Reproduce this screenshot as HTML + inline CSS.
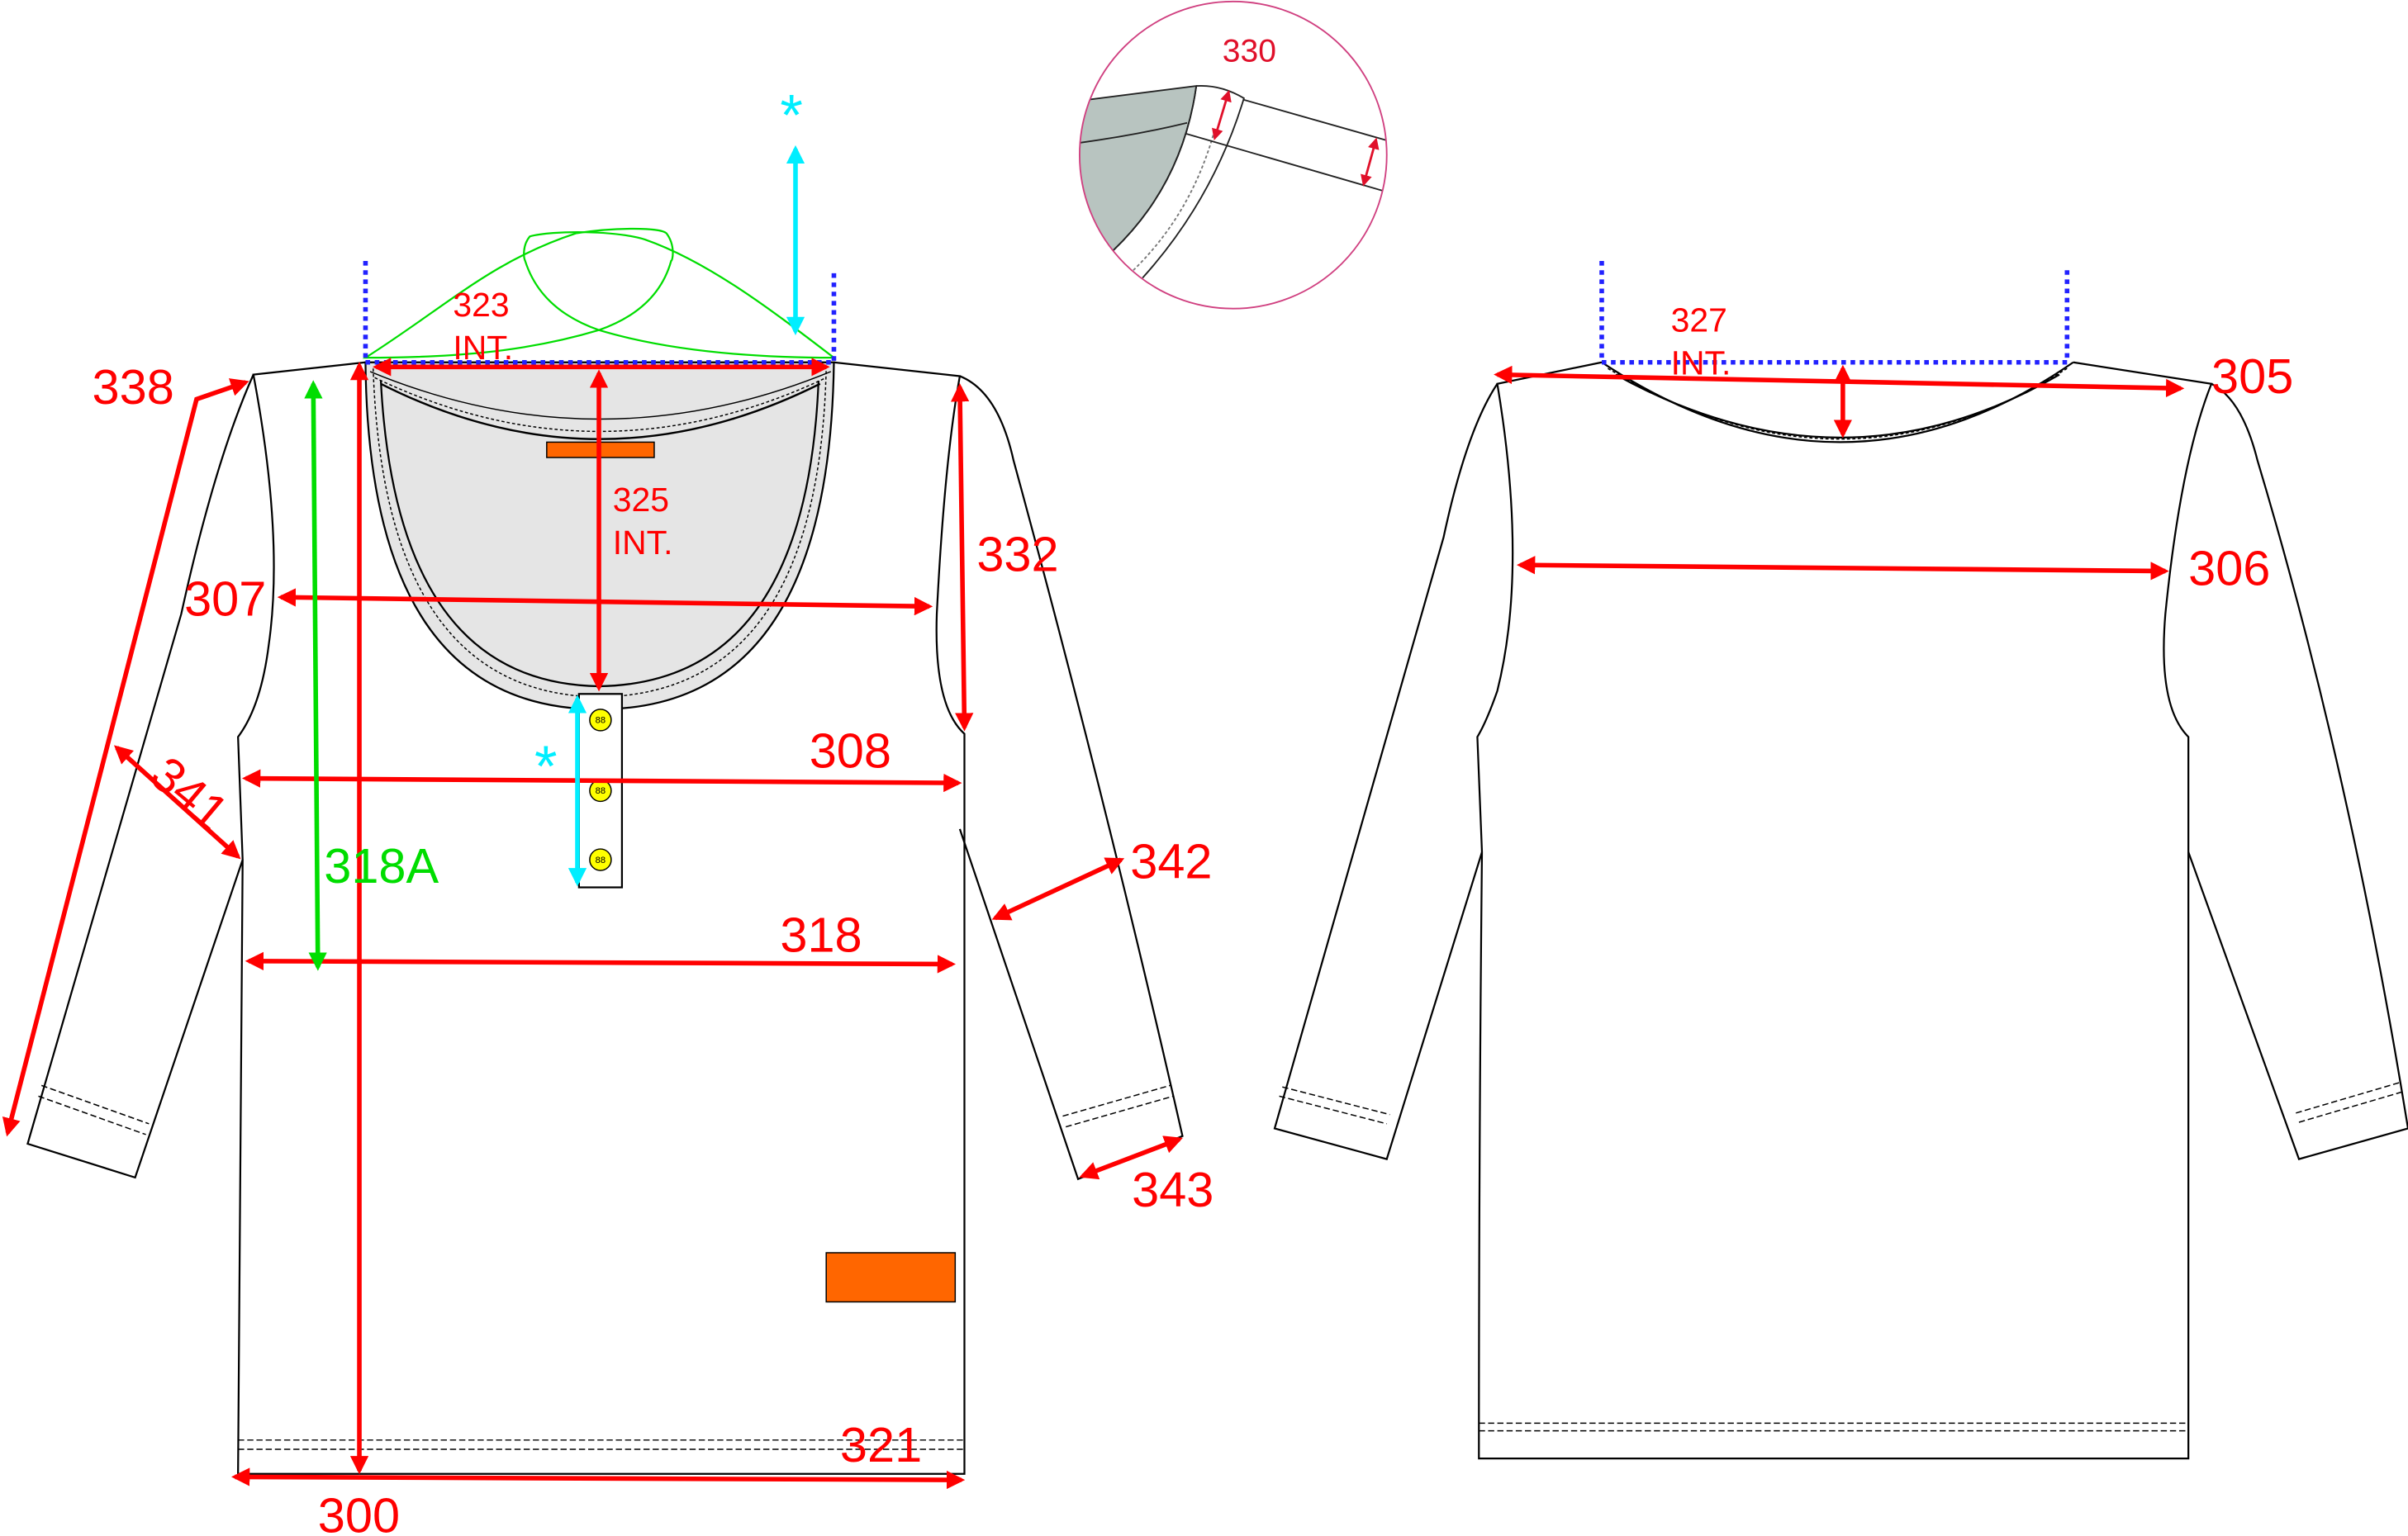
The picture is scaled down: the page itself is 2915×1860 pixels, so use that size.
<!DOCTYPE html>
<html><head><meta charset="utf-8"><style>
html,body{margin:0;padding:0;background:#fff;}
svg{display:block;}
text{font-family:"Liberation Sans",sans-serif;}
</style></head><body>
<svg width="2915" height="1860" viewBox="0 0 1568 1000.5" preserveAspectRatio="none" xmlns="http://www.w3.org/2000/svg">
<defs>
<marker id="ar" viewBox="0 0 10 10" refX="8" refY="5" markerWidth="4" markerHeight="4" orient="auto-start-reverse"><path d="M0,0 L10,5 L0,10 z" fill="#f00"/></marker>
<marker id="ag" viewBox="0 0 10 10" refX="8" refY="5" markerWidth="4" markerHeight="4" orient="auto-start-reverse"><path d="M0,0 L10,5 L0,10 z" fill="#0d0"/></marker>
<marker id="ac" viewBox="0 0 10 10" refX="8" refY="5" markerWidth="4" markerHeight="4" orient="auto-start-reverse"><path d="M0,0 L10,5 L0,10 z" fill="#0ef"/></marker>
<marker id="as" viewBox="0 0 10 10" refX="8" refY="5" markerWidth="5" markerHeight="5" orient="auto-start-reverse"><path d="M0,0 L10,5 L0,10 z" fill="#e0102a"/></marker>
<clipPath id="cc"><circle cx="803" cy="101" r="100"/></clipPath>
</defs>
<g fill="none" stroke="#000" stroke-width="1.2">
<!-- FRONT -->
<path d="M238,236 L165,244 Q185,350 175,420 Q170,460 155,480 L158,560 Q157,760 155,960 L628,960 L628,478 Q608,460 610,400 Q615,300 625,245 L543,236"/>
<path d="M165,244 Q140,300 118,400 L18,745 L88,767 L158,560"/>
<path d="M625,245 Q650,255 660,300 Q720,520 770,740 L702,768 L625,540"/>
<path d="M238,236 Q240,462 390,462 Q540,462 543,236 z" fill="#e5e5e5"/>
<path d="M243,240 Q250,452 390,454 Q533,452 538,240" stroke-dasharray="2,1.5" stroke-width="0.8"/>
<path d="M248,248 Q258,445 390,447 Q525,445 533,248"/>
<path d="M241,242 Q390,304 541,242" stroke-width="0.8"/>
<path d="M244,246 Q390,316 538,246" stroke-dasharray="2,1.5" stroke-width="0.8"/>
<path d="M248,250 Q390,322 534,250" stroke-width="1.3"/>
<rect x="377" y="452" width="28" height="126" fill="#fff"/>
<path d="M155,938 L628,938 M155,944 L628,944" stroke-dasharray="4,2" stroke-width="0.8"/>
<path d="M27,707 L97,732 M25,714 L95,739" stroke-dasharray="4,2" stroke-width="0.8"/>
<path d="M692,727 L762,707 M694,734 L764,714" stroke-dasharray="4,2" stroke-width="0.8"/>
<!-- BACK -->
<path d="M1043,236 L975,250 Q995,370 975,450 Q968,470 962,480 L965,555 Q963,750 963,950 L1425,950 L1425,480 Q1405,460 1410,400 Q1420,300 1440,250 L1350,236"/>
<path d="M1043,236 Q1200,340 1350,236"/>
<path d="M1047,240 Q1200,332 1346,240" stroke-dasharray="2,1.5" stroke-width="0.8"/>
<path d="M1052,244 Q1200,326 1341,244"/>
<path d="M975,250 Q955,280 940,350 L830,735 L903,755 L965,555"/>
<path d="M1440,250 Q1460,260 1470,300 Q1530,500 1568,735 L1497,755 L1425,555"/>
<path d="M963,927 L1425,927 M963,932 L1425,932" stroke-dasharray="4,2" stroke-width="0.8"/>
<path d="M835,708 L905,726 M833,714 L903,732" stroke-dasharray="4,2" stroke-width="0.8"/>
<path d="M1495,725 L1563,705 M1497,731 L1565,711" stroke-dasharray="4,2" stroke-width="0.8"/>
</g>
<!-- buttons -->
<g stroke="#000" stroke-width="0.8" fill="#ff0">
<circle cx="391" cy="469" r="7"/><circle cx="391" cy="515" r="7"/><circle cx="391" cy="560" r="7"/>
</g>
<g font-size="6" fill="#000" text-anchor="middle"><text x="391" y="471">88</text><text x="391" y="517">88</text><text x="391" y="562">88</text></g>
<rect x="356" y="288" width="70" height="10" fill="#f60" stroke="#000" stroke-width="0.8"/>
<rect x="538" y="816" width="84" height="32" fill="#f60" stroke="#000" stroke-width="0.8"/>
<!-- green neck shape -->
<g fill="none" stroke="#0d0" stroke-width="1.2">
<path d="M238,233 C290,200 320,170 375,152 C400,148 430,148 434,152 C440,160 438,170 437,170 C430,195 410,208 390,215 C340,230 290,233 238,233 Z"/>
<path d="M543,233 C500,200 460,170 420,156 C400,150 360,150 345,154 C340,160 341,168 342,170 C350,195 370,208 390,215 C440,230 500,233 543,233"/>
</g>
<!-- blue dotted -->
<g stroke="#22f" stroke-width="3" stroke-dasharray="3,3" fill="none">
<path d="M238,170 L238,236 L543,236 L543,176"/>
<path d="M1043,170 L1043,236 L1346,236 L1346,176"/>
</g>
<!-- red arrows -->
<g stroke="#f00" stroke-width="3" fill="none" marker-start="url(#ar)" marker-end="url(#ar)">
<line x1="245" y1="239" x2="538" y2="239"/>
<line x1="390" y1="243" x2="390" y2="448"/>
<line x1="234" y1="238" x2="234" y2="958"/>
<line x1="183" y1="389" x2="605" y2="395"/>
<line x1="160" y1="507" x2="624" y2="510"/>
<line x1="162" y1="626" x2="620" y2="628"/>
<line x1="625" y1="252" x2="628" y2="474"/>
<line x1="153" y1="962" x2="626" y2="964"/>
<line x1="76" y1="487" x2="155" y2="558"/>
<line x1="648" y1="598" x2="730" y2="560"/>
<line x1="705" y1="766" x2="768" y2="742"/>
<line x1="975" y1="244" x2="1420" y2="253"/>
<line x1="1200" y1="240" x2="1200" y2="283"/>
<line x1="990" y1="368" x2="1410" y2="372"/>
</g>
<path d="M5,738 L128,260 L160,249" stroke="#f00" stroke-width="3" fill="none" marker-start="url(#ar)" marker-end="url(#ar)"/>
<line x1="204" y1="250" x2="207" y2="630" stroke="#0d0" stroke-width="3" marker-start="url(#ag)" marker-end="url(#ag)"/>
<line x1="518" y1="97" x2="518" y2="216" stroke="#0ef" stroke-width="3" marker-start="url(#ac)" marker-end="url(#ac)"/>
<line x1="376" y1="455" x2="376" y2="575" stroke="#0ef" stroke-width="3" marker-start="url(#ac)" marker-end="url(#ac)"/>
<!-- labels -->
<g fill="#f00" font-size="32">
<text x="60" y="263">338</text>
<text x="120" y="401">307</text>
<text x="636" y="372">332</text>
<text x="527" y="500">308</text>
<text x="508" y="620">318</text>
<text x="547" y="952">321</text>
<text x="207" y="998">300</text>
<text x="736" y="572">342</text>
<text x="737" y="786">343</text>
<text x="1440" y="256">305</text>
<text x="1425" y="381">306</text>
<text x="96" y="508" transform="rotate(40 96 508)">341</text>
</g>
<text x="211" y="575" fill="#0d0" font-size="32">318A</text>
<g fill="#f00" font-size="22">
<text x="295" y="206">323</text><text x="295" y="234">INT.</text>
<text x="399" y="333">325</text><text x="399" y="361">INT.</text>
<text x="1088" y="216">327</text><text x="1088" y="244">INT.</text>
</g>
<text x="508" y="88" fill="#0ef" font-size="38">*</text>
<text x="348" y="512" fill="#0ef" font-size="38">*</text>
<!-- detail circle -->
<g clip-path="url(#cc)" fill="none" stroke="#222" stroke-width="1">
<path d="M700,66 L779,56 Q770,120 725,163 L700,175 z" fill="#b8c4c0"/>
<path d="M779,56 Q795,55 810,64 Q790,130 744,181"/>
<path d="M779,56 Q770,120 725,163"/>
<path d="M790,88 Q775,140 738,176" stroke-dasharray="2,1.5" stroke="#777"/>
<path d="M810,65 L905,92 M772,87 L903,125 M703,93 Q740,88 773,80"/>
</g>
<circle cx="803" cy="101" r="100" fill="none" stroke="#d04080" stroke-width="1"/>
<line x1="800" y1="60" x2="791" y2="90" stroke="#e0102a" stroke-width="1.5" marker-start="url(#as)" marker-end="url(#as)"/>
<line x1="896" y1="91" x2="888" y2="120" stroke="#e0102a" stroke-width="1.5" marker-start="url(#as)" marker-end="url(#as)"/>
<text x="796" y="40" fill="#e0102a" font-size="21">330</text>
</svg>
</body></html>
